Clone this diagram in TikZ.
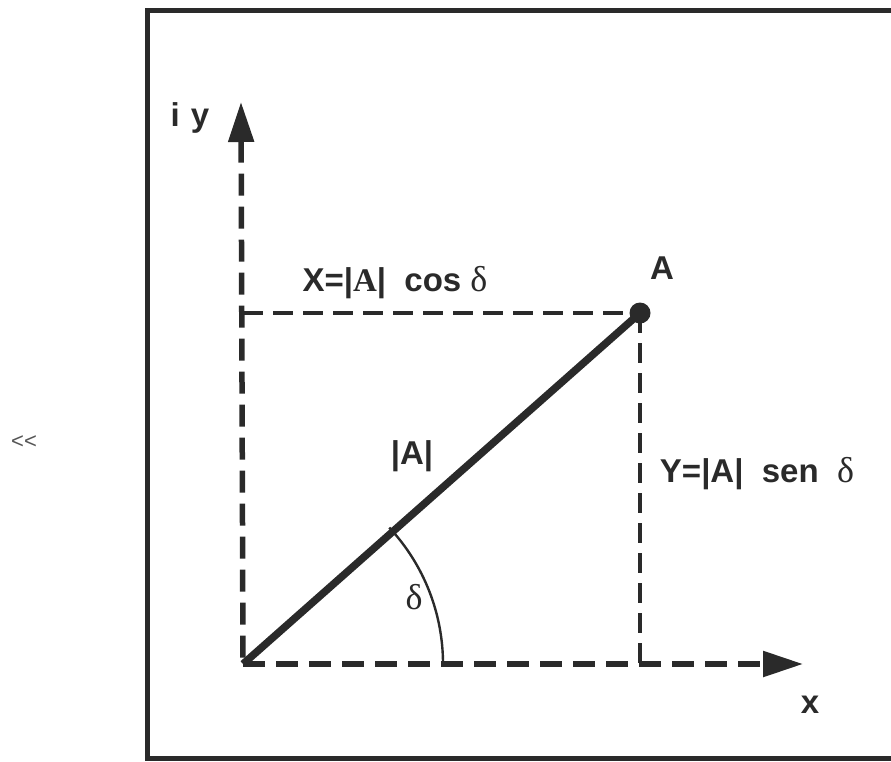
\documentclass[tikz,border=0pt]{standalone}
\usepackage{fontspec}
\setmainfont{Liberation Sans}
\newfontfamily\greekfont{Liberation Serif}
\usetikzlibrary{arrows.meta}
\definecolor{inkcolor}{HTML}{2A2A2A}
\newcommand{\dlt}{{\greekfont\mdseries\fontsize{36}{40}\selectfont δ}}
\tikzset{
  axisline/.style={line width=5.5pt,dash pattern=on 22pt off 11pt,inkcolor},
  projline/.style={line width=4pt,dash pattern=on 20pt off 10pt,inkcolor},
  bigtip/.tip={Triangle[length=40pt,width=25pt]},
  lbl/.style={font=\fontsize{33}{37}\selectfont\bfseries,text=inkcolor,inner sep=0pt}
}

\begin{document}
\begin{tikzpicture}[x=1pt,y=-1pt]
\useasboundingbox (0,0) rectangle (891,761);
% frame, open on the right
\draw[line width=5pt,inkcolor] (891,10) -- (147,10) -- (147,758) -- (891,758);

\coordinate (O) at (243,664);
\coordinate (ytip) at (241,102);
\coordinate (xtip) at (803,664);
\node[circle,fill=inkcolor,inner sep=0pt,minimum size=21pt] (A) at (640,313) {};
\coordinate (Afoot) at (A |- O);
\coordinate (Aleft) at (A -| O);

% axes
\draw[axisline,{bigtip}-] (ytip) -- (O);
\draw[axisline,-{bigtip}] (O) -- (xtip);

% projections
\draw[projline] (Aleft) -- (A.center);
\draw[projline] (A.center) -- (Afoot);

% vector and angle
\draw[line width=7.5pt,inkcolor] (O) -- (A.center);
\draw[line width=2.4pt,inkcolor] (O) ++(200,0) arc[start angle=0,end angle=-43,radius=200];

% labels
\node[lbl] (iylbl) at (190,118) {i\,\,y};
\node[lbl] (xlbl) at (810,705) {x};
\node[lbl] (Albl) at (662,268) {A};
\node[lbl] (Xlbl) at (395,283) {X=|{\fontspec{Liberation Serif}A}|\ \ cos \dlt};
\node[lbl] (Ylbl) at (757,474) {Y=|A|\ \ sen \ \dlt};
\node[lbl] (normlbl) at (412,456) {|A|};
\node[lbl] (dlbl) at (414,597) {\dlt};
\node[font=\fontsize{22}{24}\selectfont,text=inkcolor!80,inner sep=0pt] (mark) at (24,442) {<{}<};
\end{tikzpicture}
\end{document}
